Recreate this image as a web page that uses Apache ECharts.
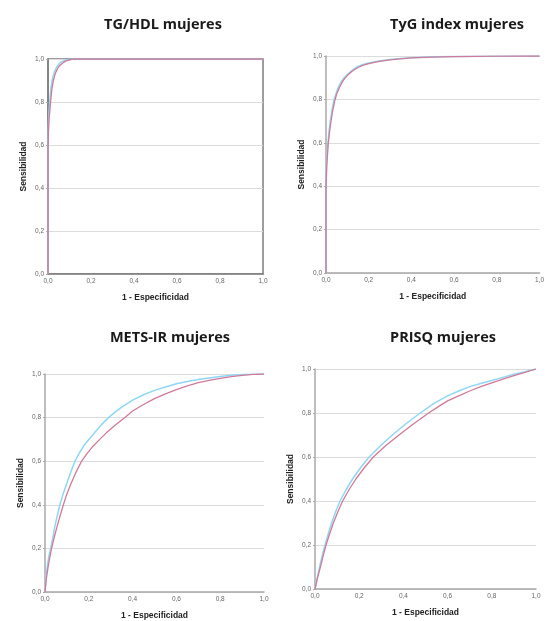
<!DOCTYPE html>
<html>
<head>
<meta charset="utf-8">
<script src="https://cdn.jsdelivr.net/npm/echarts@6/dist/echarts.min.js"></script>
<style>
  html, body { margin: 0; padding: 0; background: #fff; }
  #chart { width: 547px; height: 621px; }
</style>
</head>
<body>
<div id="chart"></div>
<script>
// títulos de cada panel
const panelTitles = ["TG/HDL mujeres", "TyG index mujeres", "METS-IR mujeres", "PRISQ mujeres"];

// curvas ROC [1 - especificidad, sensibilidad]
const tgHdlCyan = [[0, 0], [0, 0.62], [0.002, 0.7], [0.004, 0.75], [0.008, 0.8], [0.013, 0.86], [0.019, 0.9], [0.025, 0.925], [0.03, 0.94], [0.037, 0.956], [0.045, 0.97], [0.052, 0.978], [0.06, 0.985], [0.07, 0.99], [0.08, 0.994], [0.1, 0.998], [0.12, 1], [1, 1]];
const tgHdlPink = [[0, 0], [0, 0.58], [0.002, 0.66], [0.005, 0.72], [0.012, 0.8], [0.018, 0.86], [0.025, 0.9], [0.031, 0.923], [0.037, 0.94], [0.045, 0.956], [0.055, 0.97], [0.062, 0.977], [0.07, 0.983], [0.08, 0.989], [0.09, 0.993], [0.11, 0.998], [0.13, 1], [1, 1]];

const tygCyan = [[0, 0], [0, 0.42], [0.003, 0.52], [0.009, 0.6], [0.014, 0.65], [0.02, 0.7], [0.028, 0.75], [0.038, 0.8], [0.048, 0.83], [0.06, 0.86], [0.072, 0.882], [0.085, 0.9], [0.1, 0.915], [0.12, 0.932], [0.145, 0.95], [0.17, 0.96], [0.2, 0.968], [0.25, 0.977], [0.3, 0.984], [0.35, 0.989], [0.4, 0.992], [0.5, 0.996], [0.6, 0.998], [0.8, 0.999], [1, 1]];
const tygPink = [[0, 0], [0, 0.4], [0.004, 0.5], [0.01, 0.59], [0.016, 0.645], [0.022, 0.69], [0.03, 0.74], [0.04, 0.79], [0.05, 0.825], [0.063, 0.855], [0.075, 0.878], [0.088, 0.897], [0.102, 0.912], [0.122, 0.93], [0.15, 0.947], [0.175, 0.958], [0.2, 0.965], [0.25, 0.975], [0.3, 0.982], [0.35, 0.987], [0.4, 0.991], [0.5, 0.995], [0.6, 0.997], [0.8, 0.999], [1, 1]];

const metsCyan = [[0, 0], [0.005, 0.07], [0.012, 0.13], [0.02, 0.175], [0.03, 0.22], [0.045, 0.3], [0.056, 0.35], [0.068, 0.4], [0.083, 0.45], [0.1, 0.5], [0.118, 0.55], [0.137, 0.6], [0.158, 0.64], [0.18, 0.675], [0.205, 0.705], [0.23, 0.735], [0.26, 0.77], [0.29, 0.8], [0.32, 0.825], [0.35, 0.848], [0.4, 0.88], [0.45, 0.905], [0.5, 0.925], [0.55, 0.94], [0.6, 0.955], [0.65, 0.966], [0.7, 0.975], [0.75, 0.982], [0.8, 0.988], [0.85, 0.994], [0.9, 0.998], [1, 1]];
const metsPink = [[0, 0], [0.006, 0.06], [0.015, 0.12], [0.022, 0.16], [0.03, 0.2], [0.042, 0.25], [0.055, 0.3], [0.069, 0.35], [0.084, 0.4], [0.1, 0.45], [0.12, 0.5], [0.142, 0.55], [0.167, 0.6], [0.192, 0.635], [0.22, 0.67], [0.25, 0.7], [0.28, 0.73], [0.32, 0.765], [0.365, 0.8], [0.4, 0.83], [0.45, 0.86], [0.5, 0.887], [0.55, 0.909], [0.6, 0.928], [0.65, 0.945], [0.7, 0.96], [0.75, 0.971], [0.8, 0.98], [0.85, 0.988], [0.9, 0.994], [0.95, 0.998], [1, 1]];

const prisqCyan = [[0, 0], [0.01, 0.05], [0.025, 0.12], [0.035, 0.16], [0.045, 0.2], [0.06, 0.25], [0.075, 0.3], [0.093, 0.35], [0.113, 0.4], [0.14, 0.45], [0.17, 0.5], [0.205, 0.55], [0.245, 0.6], [0.295, 0.65], [0.35, 0.7], [0.41, 0.75], [0.476, 0.8], [0.54, 0.845], [0.6, 0.878], [0.65, 0.9], [0.7, 0.92], [0.75, 0.934], [0.8, 0.948], [0.85, 0.962], [0.9, 0.976], [0.95, 0.988], [1, 1]];
const prisqPink = [[0, 0], [0.01, 0.045], [0.027, 0.11], [0.038, 0.155], [0.05, 0.2], [0.066, 0.25], [0.083, 0.3], [0.103, 0.35], [0.125, 0.4], [0.153, 0.45], [0.185, 0.5], [0.222, 0.55], [0.264, 0.6], [0.318, 0.65], [0.38, 0.7], [0.445, 0.75], [0.514, 0.8], [0.56, 0.83], [0.6, 0.855], [0.65, 0.878], [0.7, 0.9], [0.75, 0.92], [0.8, 0.937], [0.85, 0.954], [0.9, 0.97], [0.95, 0.985], [1, 1]];

const curves = [
	[tgHdlCyan, tgHdlPink],
	[tygCyan, tygPink],
	[metsCyan, metsPink],
	[prisqCyan, prisqPink],
];

// posición de cada panel
const grids = [
	{ left: 48, top: 59, width: 215, height: 215, show: true, borderColor: "#7d7d7d", borderWidth: 1.5 },
	{ left: 326, top: 56, width: 217, height: 217 },
	{ left: 45, top: 374, width: 219, height: 219 },
	{ left: 315, top: 369, width: 221, height: 220 },
];
const titlePos = [[158, 12], [452, 12], [165, 325], [438, 325]];

const fmt = (v) => v.toFixed(1).replace(".", ",");

let myChart = echarts.init(document.getElementById("chart"));

const option = {
	animation: false,
	title: panelTitles.map((t, i) => ({
		text: t,
		left: titlePos[i][0],
		top: titlePos[i][1],
		textAlign: "center",
		textStyle: {
			fontFamily: "Open Sans",
			fontWeight: "bold",
			fontSize: 14.5,
			color: "#1a1a1a",
		},
	})),
	grid: grids,
	xAxis: grids.map((g, i) => ({
		type: "value",
		gridIndex: i,
		min: 0,
		max: 1,
		interval: 0.2,
		name: "1 - Especificidad",
		nameLocation: "middle",
		nameGap: 19,
		nameTextStyle: {
			fontFamily: "Liberation Sans",
			fontWeight: "bold",
			fontSize: 8.5,
			color: "#222",
		},
		axisLine: { lineStyle: { color: i === 0 ? "#7d7d7d" : "#a8a8a8", width: 1.5 } },
		axisTick: { show: false },
		splitLine: { show: false },
		axisLabel: {
			formatter: fmt,
			fontSize: 6.5,
			color: "#666",
			margin: 4,
			fontFamily: "Liberation Sans",
		},
	})),
	yAxis: grids.map((g, i) => ({
		type: "value",
		gridIndex: i,
		min: 0,
		max: 1,
		interval: 0.2,
		name: "Sensibilidad",
		nameLocation: "middle",
		nameGap: 20,
		nameTextStyle: {
			fontFamily: "Liberation Sans",
			fontWeight: "bold",
			fontSize: 8.5,
			color: "#222",
		},
		axisLine: { show: true, lineStyle: { color: i === 0 ? "#7d7d7d" : "#a8a8a8", width: 1.5 } },
		axisTick: { show: true, length: 2, lineStyle: { color: "#aaa" } },
		splitLine: { show: true, lineStyle: { color: "#dcdcdc", width: 1 } },
		axisLabel: {
			formatter: fmt,
			fontSize: 6.5,
			color: "#666",
			margin: 4,
			fontFamily: "Liberation Sans",
		},
	})),
	series: curves.flatMap((pair, i) => [
		{
			type: "line",
			xAxisIndex: i,
			yAxisIndex: i,
			data: pair[0],
			showSymbol: false,
			lineStyle: { color: "#8fd6f6", width: 1.5 },
		},
		{
			type: "line",
			xAxisIndex: i,
			yAxisIndex: i,
			data: pair[1],
			showSymbol: false,
			lineStyle: { color: "#d17a98", width: 1.3 },
		},
	]),
};

myChart.setOption(option);
</script>
</body>
</html>
